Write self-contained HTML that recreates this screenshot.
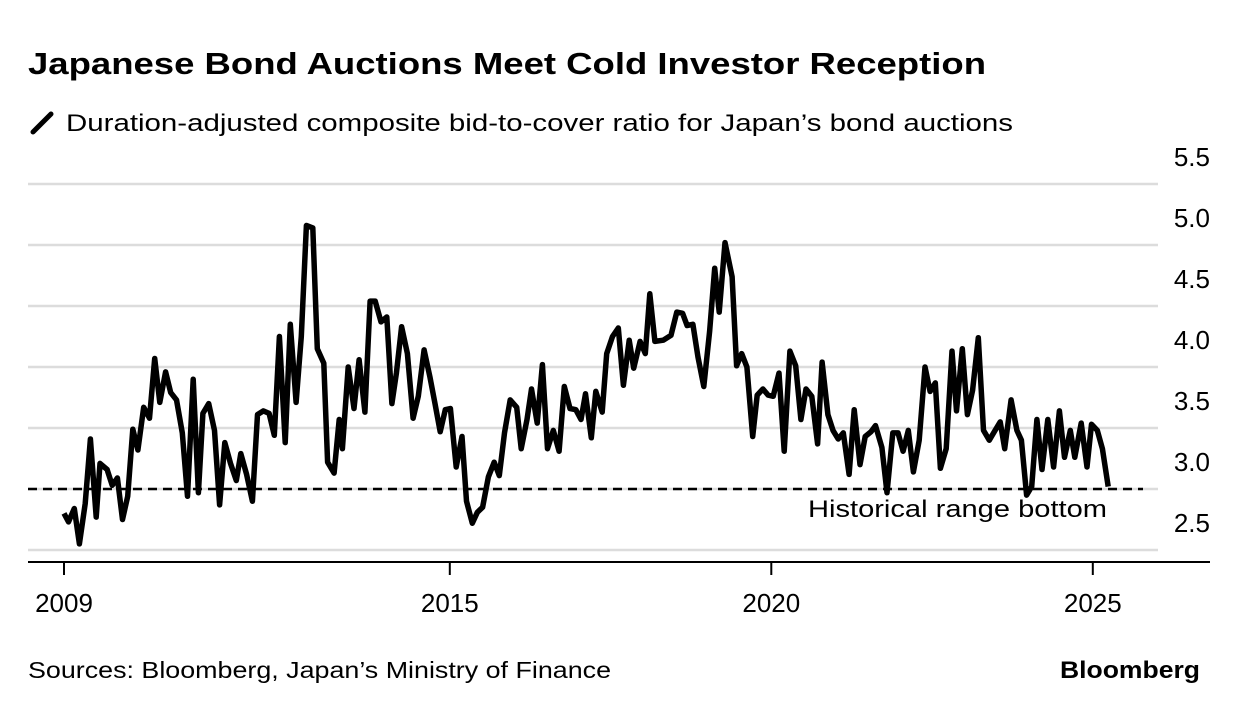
<!DOCTYPE html>
<html><head><meta charset="utf-8"><style>
html,body{margin:0;padding:0;background:#fff;}
svg{display:block;font-family:"Liberation Sans",Arial,sans-serif;}
</style></head><body>
<svg id="chart" width="1240" height="712" viewBox="0 0 1240 712" xmlns="http://www.w3.org/2000/svg">
<text x="28" y="74" font-size="31" font-weight="bold" fill="#000" textLength="958" lengthAdjust="spacingAndGlyphs">Japanese Bond Auctions Meet Cold Investor Reception</text>
<line x1="33" y1="132" x2="51" y2="114" stroke="#000" stroke-width="5" stroke-linecap="round"/>
<text x="66" y="131" font-size="24" fill="#000" textLength="947" lengthAdjust="spacingAndGlyphs">Duration-adjusted composite bid-to-cover ratio for Japan’s bond auctions</text>
<g id="grid"></g>
<g id="yticks"></g>
<g id="xticks"></g>
<line id="hline" x1="28" x2="1143" stroke="#000" stroke-width="2.5" stroke-dasharray="9,6"/>
<text x="1107" y="517" font-size="24" text-anchor="end" fill="#000" textLength="299" lengthAdjust="spacingAndGlyphs">Historical range bottom</text>
<path id="series" fill="none" stroke="#000" stroke-width="5.5" stroke-linejoin="round"/>
<text x="28" y="678" font-size="23" fill="#000" textLength="583" lengthAdjust="spacingAndGlyphs">Sources: Bloomberg, Japan’s Ministry of Finance</text>
<text x="1200" y="678" font-size="24" font-weight="bold" text-anchor="end" fill="#000" textLength="140" lengthAdjust="spacingAndGlyphs">Bloomberg</text>
</svg>
<script>
const dates = [2009.0,2009.07,2009.16,2009.24,2009.33,2009.41,2009.50,2009.56,2009.67,2009.75,2009.83,2009.91,2009.99,2010.07,2010.15,2010.24,2010.33,2010.41,2010.49,2010.58,2010.66,2010.75,2010.84,2010.92,2011.01,2011.09,2011.16,2011.25,2011.34,2011.42,2011.50,2011.59,2011.68,2011.75,2011.84,2011.93,2012.01,2012.10,2012.19,2012.27,2012.35,2012.44,2012.52,2012.61,2012.69,2012.77,2012.87,2012.94,2013.04,2013.10,2013.20,2013.28,
2013.33,2013.42,2013.51,2013.59,2013.68,2013.76,2013.84,2013.93,2014.02,2014.10,2014.17,2014.25,2014.34,2014.43,2014.51,2014.60,2014.69,2014.77,2014.85,2014.93,2015.01,2015.10,2015.19,2015.26,2015.35,2015.43,2015.51,2015.60,2015.69,2015.77,2015.85,2015.94,2016.04,2016.11,2016.20,2016.27,2016.36,2016.44,2016.52,2016.61,2016.70,2016.78,2016.87,2016.96,2017.04,2017.11,2017.20,2017.27,2017.37,2017.44,2017.53,2017.62,
2017.70,2017.79,2017.86,2017.96,2018.04,2018.11,2018.19,2018.32,2018.44,2018.53,2018.62,2018.69,2018.78,2018.86,2018.95,2019.04,2019.12,2019.19,2019.28,2019.39,2019.46,2019.54,2019.62,2019.71,2019.78,2019.87,2019.95,2020.03,2020.12,2020.20,2020.29,2020.38,2020.46,2020.54,2020.63,2020.72,2020.79,2020.88,2020.96,2021.04,2021.12,2021.21,2021.29,2021.38,2021.46,2021.55,2021.62,2021.72,2021.80,2021.89,2021.97,
2022.05,2022.13,2022.21,2022.30,2022.39,2022.47,2022.55,2022.63,2022.72,2022.81,2022.88,2022.97,2023.05,2023.13,2023.22,2023.30,2023.39,2023.48,2023.56,2023.63,2023.73,2023.82,2023.89,2023.97,2024.05,2024.13,2024.21,2024.30,2024.39,2024.48,2024.56,2024.65,2024.72,2024.82,2024.91,2024.98,2025.07,2025.15,2025.24];
const values = [2.80,2.73,2.84,2.55,2.88,3.41,2.77,3.21,3.16,3.03,3.09,2.75,2.94,3.49,3.32,3.67,3.58,4.07,3.71,3.96,3.79,3.73,3.46,2.94,3.90,2.97,3.62,3.70,3.48,2.87,3.38,3.21,3.07,3.29,3.12,2.90,3.61,3.64,3.62,3.44,4.25,3.38,4.35,3.71,4.25,5.16,5.14,4.15,4.03,3.22,3.13,3.57,
3.33,4.00,3.66,4.06,3.63,4.54,4.54,4.37,4.41,3.70,3.95,4.33,4.11,3.58,3.76,4.14,3.92,3.70,3.47,3.65,3.66,3.18,3.43,2.90,2.72,2.81,2.85,3.10,3.22,3.11,3.46,3.73,3.67,3.33,3.57,3.82,3.54,4.02,3.33,3.48,3.31,3.84,3.66,3.65,3.57,3.78,3.42,3.80,3.63,4.11,4.25,4.32,
3.85,4.22,3.99,4.21,4.11,4.60,4.21,4.22,4.26,4.45,4.44,4.34,4.35,4.08,3.84,4.29,4.81,4.45,5.02,4.74,4.01,4.11,4.00,3.43,3.77,3.82,3.77,3.76,3.95,3.31,4.13,4.01,3.57,3.82,3.76,3.37,4.04,3.61,3.48,3.41,3.46,3.12,3.65,3.20,3.43,3.47,3.52,3.34,2.97,3.46,3.46,
3.31,3.48,3.14,3.40,4.00,3.80,3.87,3.17,3.33,4.13,3.64,4.15,3.61,3.81,4.24,3.48,3.40,3.48,3.55,3.33,3.73,3.48,3.40,2.95,3.02,3.57,3.16,3.57,3.18,3.64,3.26,3.48,3.26,3.54,3.18,3.53,3.48,3.33,3.02];
const yTickValues = [2.5,3.0,3.5,4.0,4.5,5.0,5.5];
const yTickLabels = ["2.5","3.0","3.5","4.0","4.5","5.0","5.5"];
const xTickYears = [2009,2015,2020,2025];
const xTickLabels = ["2009","2015","2020","2025"];
const historicalBottom = [3.0];

const NS = "http://www.w3.org/2000/svg";
const xs = yr => 64 + (yr - 2009) * 64.3;
const ys = v => 550 - (v - 2.5) * 122;

const grid = document.getElementById('grid');
const yt = document.getElementById('yticks');
yTickValues.forEach((v, i) => {
  const l = document.createElementNS(NS, 'line');
  
  
  l.setAttribute('x1', 28); l.setAttribute('x2', 1158);
  l.setAttribute('y1', ys(v)); l.setAttribute('y2', ys(v));
  l.setAttribute('stroke', '#dcdcdc'); l.setAttribute('stroke-width', '2.5');
  grid.appendChild(l);
  const t = document.createElementNS(NS, 'text');
  
  
  t.setAttribute('x', 1210); t.setAttribute('y', ys(v) - 18);
  t.setAttribute('text-anchor', 'end'); t.setAttribute('font-size', '26');
  t.textContent = yTickLabels[i];
  yt.appendChild(t);
});

const xt = document.getElementById('xticks');
const axis = document.createElementNS(NS, 'line');


axis.setAttribute('x1', 28); axis.setAttribute('x2', 1210);
axis.setAttribute('y1', 562); axis.setAttribute('y2', 562);
axis.setAttribute('stroke', '#000'); axis.setAttribute('stroke-width', '2');
xt.appendChild(axis);
xTickYears.forEach((yr, i) => {
  const l = document.createElementNS(NS, 'line');
  
  
  l.setAttribute('x1', xs(yr)); l.setAttribute('x2', xs(yr));
  l.setAttribute('y1', 562); l.setAttribute('y2', 575);
  l.setAttribute('stroke', '#000'); l.setAttribute('stroke-width', '2');
  xt.appendChild(l);
  const t = document.createElementNS(NS, 'text');
  
  
  t.setAttribute('x', xs(yr)); t.setAttribute('y', 612);
  t.setAttribute('text-anchor', 'middle'); t.setAttribute('font-size', '26');
  t.textContent = xTickLabels[i];
  xt.appendChild(t);
});

const hl = document.getElementById('hline');
hl.setAttribute('y1', ys(historicalBottom[0]));
hl.setAttribute('y2', ys(historicalBottom[0]));

let d = '';
dates.forEach((yr, i) => { d += (i ? 'L' : 'M') + xs(yr).toFixed(1) + ',' + ys(values[i]).toFixed(1); });
document.getElementById('series').setAttribute('d', d);
</script>
</body></html>
